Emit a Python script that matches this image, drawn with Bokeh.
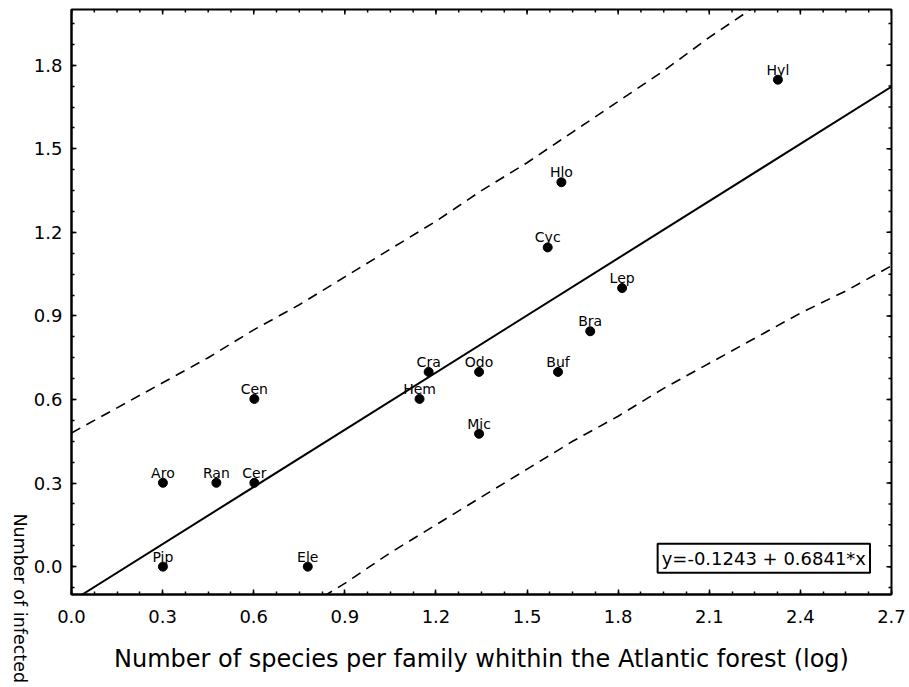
from bokeh.plotting import figure
from bokeh.layouts import row
from bokeh.models import (Label, FixedTicker, PrintfTickFormatter, Slope,
                          ColumnDataSource, Range1d)
from bokeh.core.properties import value
from bokeh.embed import file_html
from bokeh.resources import INLINE
import math

# ---- data ----
families = ["Pip", "Aro", "Ran", "Cer", "Cen", "Ele", "Hem", "Cra", "Odo", "Mic",
            "Buf", "Cyc", "Hlo", "Bra", "Lep", "Hyl"]
species_log = [0.301, 0.301, 0.477, 0.602, 0.602, 0.778, 1.146, 1.176, 1.342, 1.342,
               1.602, 1.568, 1.613, 1.708, 1.813, 2.326]
infected_log = [0.0, 0.301, 0.301, 0.301, 0.602, 0.0, 0.602, 0.699, 0.699, 0.477,
                0.699, 1.146, 1.380, 0.845, 1.0, 1.748]

intercept = -0.1243
slope = 0.6841

band_x = [0.0, 0.15, 0.3, 0.45, 0.6, 0.75, 0.9, 1.05, 1.2, 1.35, 1.5, 1.65, 1.8, 1.95,
          2.1, 2.25, 2.4, 2.55, 2.7]
band_upper = [0.48, 0.57, 0.66, 0.75, 0.85, 0.94, 1.04, 1.14, 1.24, 1.35, 1.45, 1.56,
              1.67, 1.78, 1.90, 2.01, 2.13, 2.25, 2.37]
band_lower = [-0.73, -0.61, -0.50, -0.39, -0.27, -0.16, -0.06, 0.05, 0.15, 0.25, 0.35,
              0.45, 0.54, 0.64, 0.73, 0.82, 0.91, 0.99, 1.08]

x_ticks = [0.0, 0.3, 0.6, 0.9, 1.2, 1.5, 1.8, 2.1, 2.4, 2.7]
y_ticks = [0.0, 0.3, 0.6, 0.9, 1.2, 1.5, 1.8]
x_minor_ticks = [round(i * 0.075, 4) for i in range(0, 37)]
y_minor_ticks = [round(-0.075 + i * 0.075, 4) for i in range(0, 28)]

x_title = "Number of species per family whithin the Atlantic forest (log)"
y_title = "Number of infected"
equation = "y=-0.1243 + 0.6841*x"

FONT = "DejaVu Sans"
X_MIN, X_MAX, Y_MIN, Y_MAX = 0.0, 2.7, -0.1, 2.0

p = figure(width=879, height=687, x_range=Range1d(X_MIN, X_MAX), y_range=Range1d(Y_MIN, Y_MAX),
           output_backend="svg", toolbar_location=None,
           min_border_left=41, min_border_right=18, min_border_top=9, min_border_bottom=93)
p.grid.visible = False
p.outline_line_color = "black"
p.outline_line_width = 2
p.background_fill_color = "white"
p.border_fill_color = "white"


def style_axis(ax, ticker):
    ax.ticker = ticker
    ax.axis_line_color = "black"
    ax.axis_line_width = 2
    ax.major_tick_line_color = "black"
    ax.minor_tick_line_color = "black"
    ax.major_tick_line_width = 1.5
    ax.minor_tick_line_width = 1.5
    ax.major_tick_in = 5
    ax.major_tick_out = 0
    ax.minor_tick_in = 3
    ax.minor_tick_out = 0
    ax.formatter = PrintfTickFormatter(format="%.1f")
    ax.major_label_text_font = FONT
    ax.major_label_text_font_size = "18px"
    ax.major_label_text_color = "black"


xa = p.xaxis[0]
ya = p.yaxis[0]
style_axis(xa, FixedTicker(ticks=x_ticks, minor_ticks=x_minor_ticks))
style_axis(ya, FixedTicker(ticks=y_ticks, minor_ticks=y_minor_ticks))
xa.major_label_standoff = 15
ya.major_label_standoff = 9
xa.axis_label = x_title
xa.axis_label_text_font = FONT
xa.axis_label_text_font_size = "24px"
xa.axis_label_text_font_style = "normal"
xa.axis_label_text_color = "black"
xa.axis_label_standoff = 19

# mirrored inward ticks on the top and right frame edges (half of each dash is clipped)
p.scatter(x_ticks, [Y_MAX] * len(x_ticks), marker="dash", size=10, angle=math.pi / 2,
          line_color="black", line_width=1.5)
p.scatter(x_minor_ticks, [Y_MAX] * len(x_minor_ticks), marker="dash", size=6,
          angle=math.pi / 2, line_color="black", line_width=1.5)
p.scatter([X_MAX] * len(y_ticks), y_ticks, marker="dash", size=10,
          line_color="black", line_width=1.5)
p.scatter([X_MAX] * len(y_minor_ticks), y_minor_ticks, marker="dash", size=6,
          line_color="black", line_width=1.5)

# prediction band (dashed)
p.line(band_x, band_upper, line_color="black", line_width=1.6, line_dash="10 7")
p.line(band_x, band_lower, line_color="black", line_width=1.6, line_dash="10 7")

# regression line
p.add_layout(Slope(gradient=slope, y_intercept=intercept, line_color="black", line_width=2))

src = ColumnDataSource(dict(x=species_log, y=infected_log, name=families))
p.scatter("x", "y", source=src, size=9, color="black")
p.text("x", "y", text="name", source=src, text_align="center", text_baseline="alphabetic",
       y_offset=-10, text_font=value(FONT), text_font_size="14px", text_color="black")

# equation box
p.add_layout(Label(x=1.93, y=-0.022, text=equation, text_font=FONT, text_font_size="18px",
                   text_color="black", text_align="left", text_baseline="bottom",
                   border_line_color="black", border_line_width=2,
                   background_fill_color="white", padding=4))

# narrow strip on the left holding the vertical y title, reading downward
side = figure(width=30, height=687, x_range=Range1d(0, 30), y_range=Range1d(0, 687),
              output_backend="svg", toolbar_location=None, min_border=0,
              x_axis_location=None, y_axis_location=None)
side.frame_align = False
side.outline_line_color = None
side.grid.visible = False
side.text(x=[19], y=[687 - 513], text=[y_title], angle=-math.pi / 2,
          text_align="left", text_baseline="middle", text_font=value(FONT),
          text_font_size="17.5px", text_color="black")

layout = row(side, p)
open("out.html", "w").write(file_html(layout, INLINE))
